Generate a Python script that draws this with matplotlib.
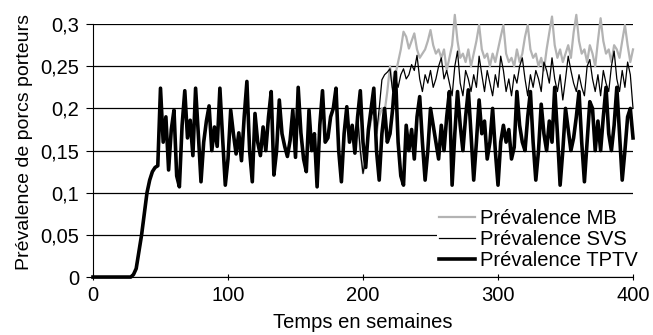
import numpy as np
import matplotlib
matplotlib.use("Agg")
import matplotlib.pyplot as plt
from matplotlib.ticker import FuncFormatter

plt.rcParams['font.family'] = ['Liberation Sans', 'DejaVu Sans']

# semaines, pas de 2
weeks = np.arange(0, 401, 2)

tptv = [
    0, 0, 0, 0, 0, 0, 0, 0, 0, 0,                                   # 0-18
    0, 0, 0, 0, 0, 0.003, 0.01, 0.03, 0.05, 0.075,                  # 20-38
    0.10, 0.115, 0.125, 0.13, 0.132, 0.224, 0.16, 0.19, 0.127, 0.175,  # 40-58
    0.198, 0.12, 0.107, 0.18, 0.221, 0.165, 0.186, 0.144, 0.224, 0.17,  # 60-78
    0.113, 0.16, 0.185, 0.203, 0.15, 0.178, 0.155, 0.224, 0.165, 0.109,  # 80-98
    0.14, 0.198, 0.17, 0.146, 0.171, 0.138, 0.19, 0.232, 0.15, 0.113,  # 100-118
    0.194, 0.16, 0.144, 0.178, 0.15, 0.19, 0.22, 0.121, 0.15, 0.21,  # 120-138
    0.17, 0.155, 0.143, 0.162, 0.198, 0.142, 0.225, 0.171, 0.14, 0.125,  # 140-158
    0.198, 0.15, 0.17, 0.107, 0.18, 0.221, 0.16, 0.165, 0.19, 0.2,  # 160-178
    0.224, 0.15, 0.113, 0.17, 0.202, 0.16, 0.18, 0.147, 0.19, 0.221,  # 180-198
    0.16, 0.13, 0.175, 0.2, 0.224, 0.15, 0.115, 0.17, 0.2, 0.16,  # 200-218
    0.17, 0.2, 0.243, 0.16, 0.12, 0.109, 0.18, 0.15, 0.175, 0.14,  # 220-238
    0.19, 0.214, 0.16, 0.115, 0.15, 0.2, 0.18, 0.16, 0.14, 0.18,  # 240-258
    0.15, 0.19, 0.22, 0.109, 0.17, 0.22, 0.18, 0.15, 0.19, 0.222,  # 260-278
    0.17, 0.115, 0.16, 0.21, 0.17, 0.185, 0.14, 0.16, 0.2, 0.15,  # 280-298
    0.109, 0.16, 0.18, 0.16, 0.175, 0.14, 0.154, 0.22, 0.18, 0.16,  # 300-318
    0.15, 0.19, 0.22, 0.16, 0.115, 0.15, 0.205, 0.17, 0.15, 0.185,  # 320-338
    0.16, 0.225, 0.17, 0.109, 0.15, 0.2, 0.175, 0.15, 0.165, 0.19,  # 340-358
    0.22, 0.16, 0.113, 0.16, 0.208, 0.2, 0.15, 0.185, 0.15, 0.19,  # 360-378
    0.225, 0.17, 0.15, 0.18, 0.225, 0.17, 0.115, 0.15, 0.19, 0.2,  # 380-398
    0.165,                                                          # 400
]

# avant la semaine 196, les trois courbes se confondent
split = 98  # indice de la semaine 196

svs_tail = [
    0.19, 0.15, 0.123, 0.14, 0.17, 0.19, 0.2, 0.17, 0.2, 0.234,  # 196-214
    0.24, 0.243, 0.247, 0.22, 0.235, 0.225, 0.24, 0.247, 0.235, 0.24,  # 216-234
    0.252, 0.245, 0.263, 0.235, 0.22, 0.24, 0.23, 0.245, 0.225, 0.235,  # 236-254
    0.25, 0.26, 0.235, 0.245, 0.23, 0.215, 0.25, 0.268, 0.23, 0.215,  # 256-274
    0.245, 0.235, 0.22, 0.24, 0.225, 0.262, 0.24, 0.22, 0.245, 0.23,  # 276-294
    0.215, 0.24, 0.225, 0.262, 0.245, 0.22, 0.235, 0.215, 0.24, 0.23,  # 296-314
    0.25, 0.26, 0.235, 0.215, 0.24, 0.225, 0.245, 0.235, 0.22, 0.255,  # 316-334
    0.245, 0.23, 0.26, 0.235, 0.22, 0.24, 0.21, 0.235, 0.262, 0.245,  # 336-354
    0.23, 0.22, 0.24, 0.225, 0.215, 0.25, 0.258, 0.235, 0.22, 0.24,  # 356-374
    0.215, 0.245, 0.23, 0.22, 0.25, 0.268, 0.235, 0.22, 0.245, 0.225,  # 376-394
    0.255, 0.24, 0.2,                                                # 396-400
]

mb_tail = [
    0.19, 0.15, 0.123, 0.14, 0.17, 0.185, 0.2, 0.17, 0.19, 0.2,  # 196-214
    0.196, 0.22, 0.25, 0.225, 0.24, 0.255, 0.27, 0.291, 0.285, 0.271,  # 216-234
    0.28, 0.289, 0.27, 0.26, 0.265, 0.27, 0.28, 0.293, 0.275, 0.265,  # 236-254
    0.27, 0.26, 0.27, 0.245, 0.26, 0.275, 0.311, 0.28, 0.26, 0.265,  # 256-274
    0.255, 0.27, 0.25, 0.265, 0.28, 0.299, 0.27, 0.26, 0.265, 0.25,  # 276-294
    0.265, 0.255, 0.27, 0.285, 0.299, 0.265, 0.255, 0.26, 0.25, 0.27,  # 296-314
    0.255, 0.265, 0.285, 0.299, 0.27, 0.26, 0.265, 0.25, 0.26, 0.245,  # 316-334
    0.27, 0.29, 0.309, 0.275, 0.26, 0.27, 0.255, 0.265, 0.275, 0.26,  # 336-354
    0.29, 0.311, 0.28, 0.265, 0.27, 0.255, 0.275, 0.265, 0.25, 0.28,  # 356-374
    0.307, 0.28, 0.265, 0.27, 0.255, 0.275, 0.27, 0.26, 0.28, 0.299,  # 376-394
    0.275, 0.255, 0.27,                                              # 396-400
]

svs = tptv[:split] + svs_tail
mb = tptv[:split] + mb_tail

fs = 14.5

fig = plt.figure(figsize=(6.53, 3.35), dpi=100)
ax = fig.add_axes([0.1424, 0.173, 0.827, 0.755])

ax.plot(weeks, mb, color='#b3b3b3', lw=1.6, label='Prévalence MB', clip_on=False)
ax.plot(weeks, svs, color='black', lw=0.9, label='Prévalence SVS', clip_on=False)
ax.plot(weeks, tptv, color='black', lw=2.6, label='Prévalence TPTV', clip_on=False)

ax.set_xlim(0, 400)
ax.set_ylim(0, 0.3)
ax.set_xticks([0, 100, 200, 300, 400])
ax.set_yticks(np.arange(0, 0.301, 0.05))
ax.yaxis.set_major_formatter(FuncFormatter(lambda v, p: ('%g' % round(v, 2)).replace('.', ',')))
ax.grid(axis='y', color='black', lw=0.9)
ax.set_axisbelow(True)
for s in ['top', 'right']:
    ax.spines[s].set_visible(False)
ax.tick_params(axis='y', direction='out', length=5, labelsize=fs, pad=5)
ax.tick_params(axis='x', direction='inout', length=5, labelsize=fs, pad=4)
ax.set_xlabel('Temps en semaines', fontsize=fs, labelpad=6)
ax.set_ylabel('Prévalence de porcs porteurs', fontsize=14)
ax.yaxis.set_label_coords(-0.112, 0.535)

leg = ax.legend(loc='lower right', bbox_to_anchor=(1.012, 0.02), fontsize=fs,
                frameon=True, fancybox=False, framealpha=1, edgecolor='none',
                borderpad=0.1, labelspacing=0.1, handlelength=1.75,
                handletextpad=0.25, borderaxespad=0)

fig.savefig('out.png', dpi=100)
